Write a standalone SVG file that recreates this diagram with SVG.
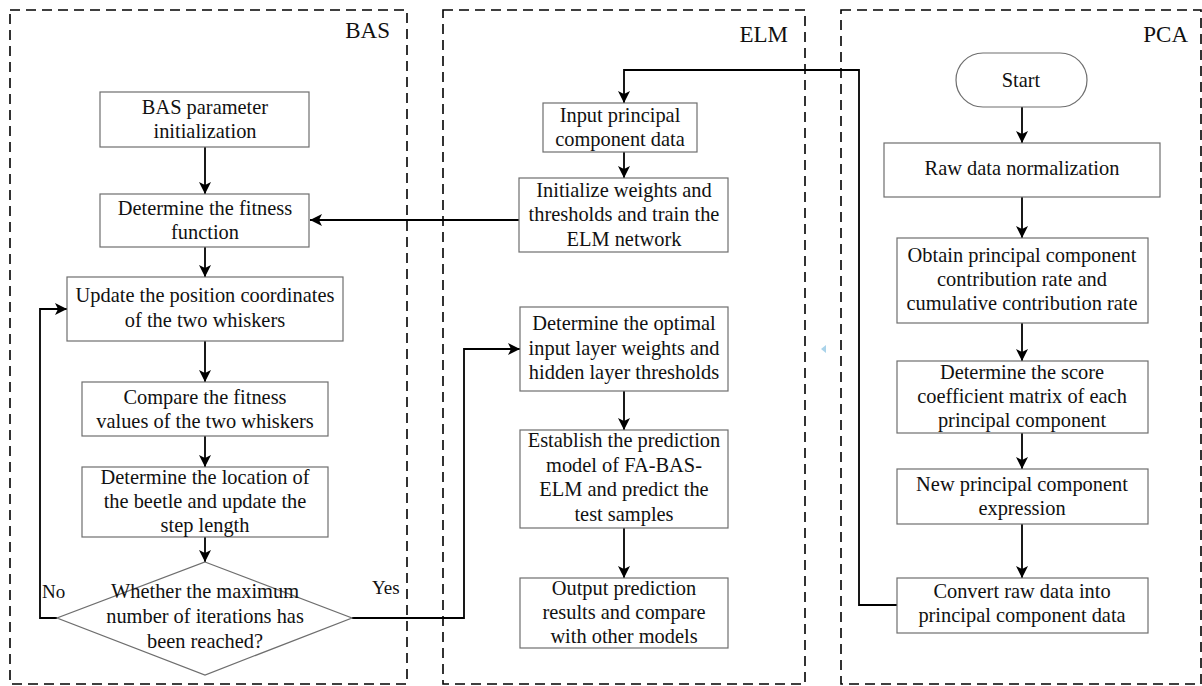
<svg xmlns="http://www.w3.org/2000/svg" width="1202" height="686" viewBox="0 0 1202 686">
<style>
  .panel{fill:none;stroke:#000;stroke-width:1.6;stroke-dasharray:10 6}
  .box{fill:#fff;stroke:#6e6e6e;stroke-width:1.2}
  .t{font-family:"Liberation Serif","Times New Roman",serif;font-size:20.4px;fill:#111;text-anchor:middle}
  .lbl{font-family:"Liberation Serif","Times New Roman",serif;font-size:23px;fill:#111;text-anchor:end}
  .yn{font-family:"Liberation Serif","Times New Roman",serif;font-size:19px;fill:#111}
  .ca{fill:none;stroke:#000;stroke-width:1.8;marker-end:url(#ah)}
</style>
<defs>
  <marker id="ah" viewBox="0 0 12 12" refX="12" refY="6" markerWidth="12" markerHeight="12" markerUnits="userSpaceOnUse" orient="auto">
    <path d="M0,0 L12,6 L0,12 L3,6 Z" fill="#000"/>
  </marker>
</defs>
<rect width="1202" height="686" fill="#fff"/>

<g id="panels">
  <rect class="panel" x="10" y="10" width="397" height="674"/>
  <rect class="panel" x="443" y="10" width="362" height="674"/>
  <rect class="panel" x="841" y="10" width="360" height="674"/>
  <text class="lbl" x="390" y="38">BAS</text>
  <text class="lbl" x="788" y="42">ELM</text>
  <text class="lbl" x="1188" y="42">PCA</text>
</g>

<g id="connectors">
  <line class="ca" x1="205" y1="147" x2="205" y2="194"/>
  <line class="ca" x1="205" y1="247" x2="205" y2="277"/>
  <line class="ca" x1="205" y1="341" x2="205" y2="382"/>
  <line class="ca" x1="205" y1="436" x2="205" y2="467"/>
  <line class="ca" x1="205" y1="537" x2="205" y2="562"/>
  <polyline class="ca" points="57,618 40,618 40,309 67,309"/>
  <polyline class="ca" points="352,618 464,618 464,349 520,349"/>
  <line class="ca" x1="519" y1="220" x2="310" y2="220"/>
  <line class="ca" x1="624" y1="152" x2="624" y2="178"/>
  <line class="ca" x1="624" y1="391" x2="624" y2="430"/>
  <line class="ca" x1="624" y1="528" x2="624" y2="578"/>
  <polyline class="ca" points="897,605 859,605 859,70 624,70 624,103"/>
  <line class="ca" x1="1022" y1="107" x2="1022" y2="143"/>
  <line class="ca" x1="1022" y1="197" x2="1022" y2="238"/>
  <line class="ca" x1="1022" y1="323" x2="1022" y2="361"/>
  <line class="ca" x1="1022" y1="433" x2="1022" y2="469"/>
  <line class="ca" x1="1022" y1="524" x2="1022" y2="578"/>
</g>

<g id="bas-init">
  <rect class="box" x="100" y="92" width="209" height="55"/>
  <text class="t" x="205" y="114">BAS parameter</text>
  <text class="t" x="205" y="138">initialization</text>
</g>
<g id="bas-fitness">
  <rect class="box" x="100" y="194" width="209" height="53"/>
  <text class="t" x="205" y="215">Determine the fitness</text>
  <text class="t" x="205" y="239">function</text>
</g>
<g id="bas-update">
  <rect class="box" x="67" y="277" width="276" height="64"/>
  <text class="t" x="205" y="302">Update the position coordinates</text>
  <text class="t" x="205" y="327">of the two whiskers</text>
</g>
<g id="bas-compare">
  <rect class="box" x="82" y="382" width="246" height="54"/>
  <text class="t" x="205" y="404">Compare the fitness</text>
  <text class="t" x="205" y="428">values of the two whiskers</text>
</g>
<g id="bas-locate">
  <rect class="box" x="82" y="467" width="246" height="70"/>
  <text class="t" x="205" y="484">Determine the location of</text>
  <text class="t" x="205" y="508">the beetle and update the</text>
  <text class="t" x="205" y="532">step length</text>
</g>
<g id="bas-decision">
  <polygon class="box" points="205,562 352,618 205,675 57,618"/>
  <text class="t" x="205" y="598">Whether the maximum</text>
  <text class="t" x="205" y="623">number of iterations has</text>
  <text class="t" x="205" y="648">been reached?</text>
  <text class="yn" x="42" y="598">No</text>
  <text class="yn" x="372" y="594">Yes</text>
</g>

<g id="elm-input">
  <rect class="box" x="543" y="103" width="154" height="49"/>
  <text class="t" x="620" y="122">Input principal</text>
  <text class="t" x="620" y="146">component data</text>
</g>
<g id="elm-train">
  <rect class="box" x="519" y="178" width="209" height="74"/>
  <text class="t" x="624" y="197">Initialize weights and</text>
  <text class="t" x="624" y="221">thresholds and train the</text>
  <text class="t" x="624" y="246">ELM network</text>
</g>
<g id="elm-optimal">
  <rect class="box" x="520" y="307" width="208" height="84"/>
  <text class="t" x="624" y="330">Determine the optimal</text>
  <text class="t" x="624" y="355">input layer weights and</text>
  <text class="t" x="624" y="379">hidden layer thresholds</text>
</g>
<g id="elm-model">
  <rect class="box" x="520" y="430" width="208" height="98"/>
  <text class="t" x="624" y="447">Establish the prediction</text>
  <text class="t" x="624" y="472">model of FA-BAS-</text>
  <text class="t" x="624" y="496">ELM and predict the</text>
  <text class="t" x="624" y="521">test samples</text>
</g>
<g id="elm-output">
  <rect class="box" x="520" y="578" width="208" height="70"/>
  <text class="t" x="624" y="595">Output prediction</text>
  <text class="t" x="624" y="619">results and compare</text>
  <text class="t" x="624" y="643">with other models</text>
</g>

<g id="pca-start">
  <rect class="box" x="956" y="53" width="131" height="54" rx="27" ry="27"/>
  <text class="t" x="1021" y="87">Start</text>
</g>
<g id="pca-normalize">
  <rect class="box" x="884" y="143" width="276" height="54"/>
  <text class="t" x="1022" y="175">Raw data normalization</text>
</g>
<g id="pca-contribution">
  <rect class="box" x="897" y="238" width="251" height="85"/>
  <text class="t" x="1022" y="262">Obtain principal component</text>
  <text class="t" x="1022" y="286">contribution rate and</text>
  <text class="t" x="1022" y="310">cumulative contribution rate</text>
</g>
<g id="pca-score">
  <rect class="box" x="897" y="361" width="251" height="72"/>
  <text class="t" x="1022" y="379">Determine the score</text>
  <text class="t" x="1022" y="403">coefficient matrix of each</text>
  <text class="t" x="1022" y="427">principal component</text>
</g>
<g id="pca-expression">
  <rect class="box" x="897" y="469" width="251" height="55"/>
  <text class="t" x="1022" y="491">New principal component</text>
  <text class="t" x="1022" y="515">expression</text>
</g>
<g id="pca-convert">
  <rect class="box" x="897" y="578" width="251" height="55"/>
  <text class="t" x="1022" y="598">Convert raw data into</text>
  <text class="t" x="1022" y="622">principal component data</text>
</g>
<polygon points="826,345 826,353 821,349" fill="#a9d3ea"/>
</svg>
